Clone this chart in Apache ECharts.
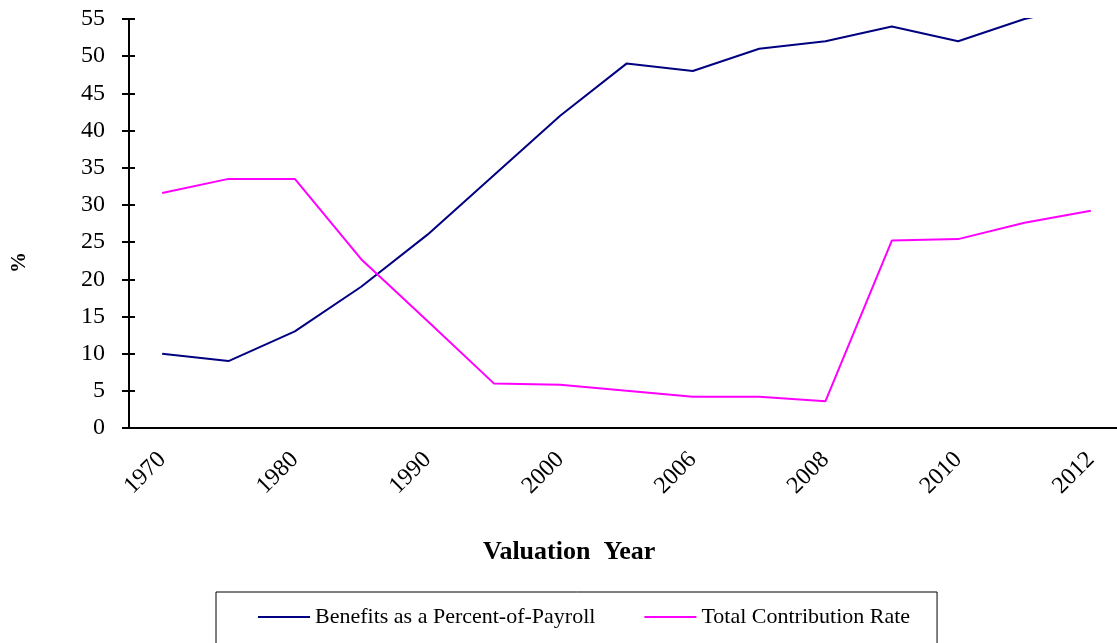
<!DOCTYPE html>
<html>
<head>
<meta charset="utf-8">
<script src="https://cdn.jsdelivr.net/npm/echarts@6/dist/echarts.min.js"></script>
<style>
  html, body { margin: 0; padding: 0; background: #fff; }
  #chart { width: 1117px; height: 643px; }
</style>
</head>
<body>
<div id="chart"></div>
<script>
// valuation years (only every other one is labelled on the axis)
const years = ['1970', '1975', '1980', '1985', '1990', '1995', '2000', '2003',
  '2006', '2007', '2008', '2009', '2010', '2011', '2012'];
const benefits = [10, 9, 13, 19, 26, 34, 42, 49, 48, 51, 52, 54, 52, 55, 57];
const contribution = [31.6, 33.5, 33.5, 22.7, 14.4, 6.0, 5.8, 5.0, 4.2, 4.2, 3.6, 25.2, 25.4, 27.6, 29.2];
const seriesNames = ['Benefits as a Percent-of-Payroll', 'Total Contribution Rate'];

const serif = 'Liberation Serif';
const chart = echarts.init(document.getElementById('chart'));

let option = {
  backgroundColor: '#fff',
  animation: false,
  textStyle: { fontFamily: serif, color: '#000' },
  // plot area runs a little past the right edge of the picture
  grid: { left: 129, width: 995, top: 19, bottom: 215, outerBoundsMode: 'none' },
  legend: {
    left: 216,
    top: 592,
    data: seriesNames,
    icon: 'rect',
    itemWidth: 52,
    itemHeight: 2,
    itemGap: 49,
    borderColor: '#000',
    borderWidth: 1,
    padding: [14, 27, 20, 42],
    textStyle: { fontFamily: serif, fontSize: 22, color: '#000' }
  },
  xAxis: {
    type: 'category',
    data: years,
    boundaryGap: true,
    axisLine: { lineStyle: { color: '#000', width: 2 } },
    axisTick: { interval: 0, length: 7, lineStyle: { color: '#000', width: 2 } },
    axisLabel: { interval: 1, rotate: 45, margin: 28, fontSize: 24, color: '#000', fontFamily: serif },
    splitLine: { show: false }
  },
  yAxis: [
    {
      type: 'value',
      min: 0,
      max: 55,
      interval: 5,
      axisLine: { show: true, lineStyle: { color: '#000', width: 2 } },
      axisTick: { show: true, length: 7, lineStyle: { color: '#000', width: 2 } },
      axisLabel: { margin: 24, fontSize: 24, color: '#000', fontFamily: serif },
      splitLine: { show: false }
    },
    {
      // inner half of the crossing tick marks
      type: 'value',
      position: 'left',
      min: 0,
      max: 55,
      interval: 5,
      axisLine: { show: false },
      axisTick: { show: true, inside: true, length: 6, lineStyle: { color: '#000', width: 2 } },
      axisLabel: { show: false },
      splitLine: { show: false }
    }
  ],
  graphic: [
    {
      type: 'text',
      left: 9,
      top: 252,
      rotation: Math.PI / 2,
      style: { text: '%', font: 'bold 21px "Liberation Serif"', fill: '#000' }
    },
    {
      type: 'text',
      left: 483,
      top: 539,
      style: { text: 'Valuation  Year', font: 'bold 26px "Liberation Serif"', fill: '#000' }
    }
  ],
  series: [
    {
      name: seriesNames[0],
      type: 'line',
      data: benefits,
      symbol: 'none',
      clip: true,
      lineStyle: { color: '#000080', width: 2 },
      itemStyle: { color: '#000080' }
    },
    {
      name: seriesNames[1],
      type: 'line',
      data: contribution,
      symbol: 'none',
      clip: true,
      lineStyle: { color: '#ff00ff', width: 2 },
      itemStyle: { color: '#ff00ff' }
    }
  ]
};

chart.setOption(option);
</script>
</body>
</html>
